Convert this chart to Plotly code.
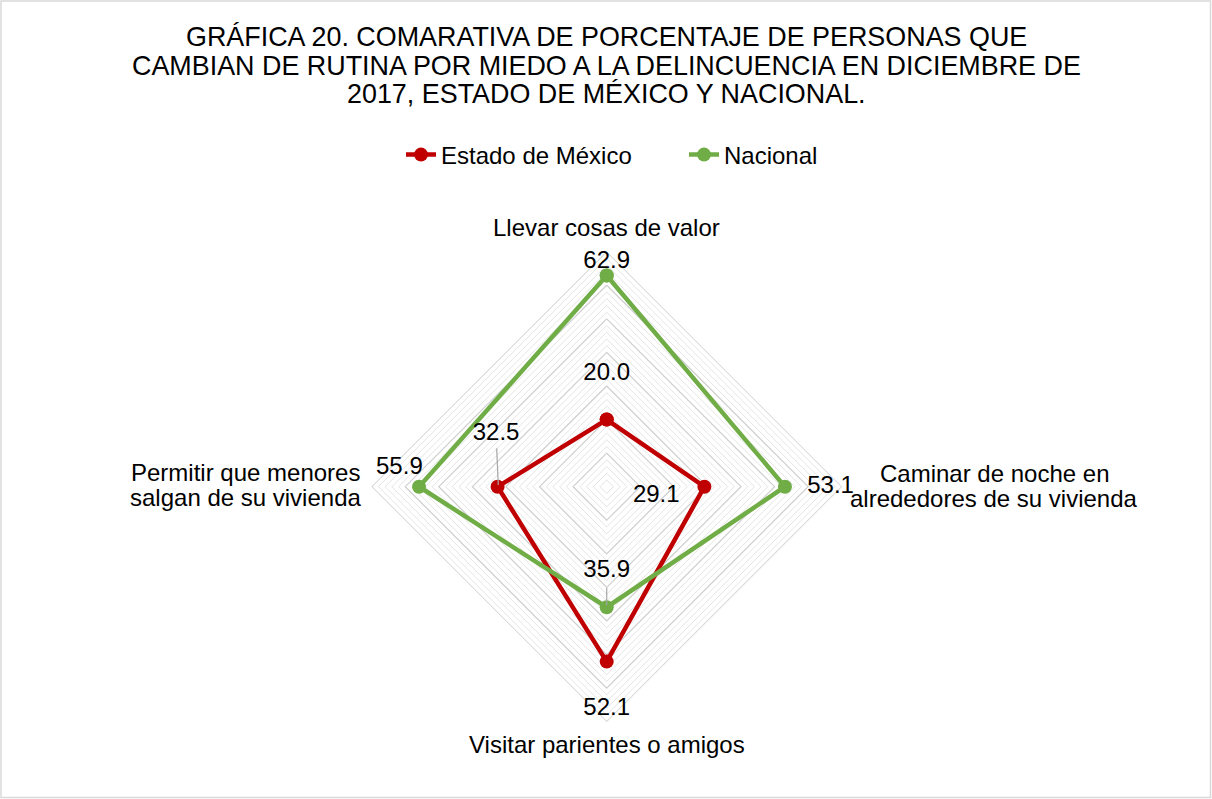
import plotly.graph_objects as go

# ---------------- data ----------------
categories = [
    "Llevar cosas de valor",
    "Caminar de noche en alrededores de su vivienda",
    "Visitar parientes o amigos",
    "Permitir que menores salgan de su vivienda",
]
estado_mexico = [20.0, 29.1, 52.1, 32.5]
nacional = [62.9, 53.1, 35.9, 55.9]

title_lines = [
    "GRÁFICA 20. COMARATIVA DE PORCENTAJE DE PERSONAS QUE",
    "CAMBIAN DE RUTINA POR MIEDO A LA DELINCUENCIA EN DICIEMBRE DE",
    "2017, ESTADO DE MÉXICO Y NACIONAL.",
]
series_names = ["Estado de México", "Nacional"]

# ---------------- styling ----------------
W, H = 1212, 799
FONT = "Liberation Sans, Arial, sans-serif"
RED = "#C00000"
GREEN = "#70AD47"
R_MAX = 70
CX, CY, RAD = 606.7, 486.7, 235.0          # polar centre / radius in px
cat_angles = [0, 90, 180, 270]               # clockwise from top

# label offsets (dr in data units, dtheta in degrees) relative to each point
est_lbl_off = [(13.6, 0), (-14.1, 10.3), (14.1, 0), (4.0, 25.5)]
nac_lbl_off = [(3.9, 0), (13.6, 0), (-10.9, 0), (6.1, 5.1)]
# leader lines: (index, (dr0, dth0), (dr1, dth1))
est_leaders = [(3, (2.2, 19.2), (-0.2, 0.9))]
nac_leaders = [(2, (-5.7, 0), (-0.6, 0))]

dom_x = [(CX - RAD) / W, (CX + RAD) / W]
dom_y = [(H - CY - RAD) / H, (H - CY + RAD) / H]

fig = go.Figure()

closed_theta = categories + [categories[0]]

# major rings (every 10) drawn darker over the light minor grid
for lvl in range(10, R_MAX + 1, 10):
    fig.add_trace(go.Scatterpolar(
        r=[lvl] * 5, theta=closed_theta, mode="lines",
        line=dict(color="#d0d0d0", width=1.2),
        hoverinfo="skip", showlegend=False, subplot="polar"))

for name, vals, col in [(series_names[0], estado_mexico, RED),
                        (series_names[1], nacional, GREEN)]:
    fig.add_trace(go.Scatterpolar(
        r=vals + [vals[0]], theta=closed_theta, mode="lines+markers",
        name=name, line=dict(color=col, width=4.5),
        marker=dict(color=col, size=14), subplot="polar"))

# data labels + leader lines on an overlaid linear polar subplot
for vals, offs, leaders in [(estado_mexico, est_lbl_off, est_leaders),
                            (nacional, nac_lbl_off, nac_leaders)]:
    for idx, a, b in leaders:
        fig.add_trace(go.Scatterpolar(
            r=[vals[idx] + a[0], vals[idx] + b[0]],
            theta=[cat_angles[idx] + a[1], cat_angles[idx] + b[1]],
            mode="lines", line=dict(color="#a6a6a6", width=1.2),
            hoverinfo="skip", showlegend=False, subplot="polar2"))
    fig.add_trace(go.Scatterpolar(
        r=[v + o[0] for v, o in zip(vals, offs)],
        theta=[a + o[1] for a, o in zip(cat_angles, offs)],
        mode="text", text=[f"{v:.1f}" for v in vals],
        textposition="middle center",
        textfont=dict(family=FONT, size=24, color="#000000"),
        hoverinfo="skip", showlegend=False, subplot="polar2", cliponaxis=False))

# ---------------- annotations (title + category labels) ----------------
annotations = []
title_centres = [37.4, 65.7, 94.0]
for txt, yc in zip(title_lines, title_centres):
    annotations.append(dict(text=txt, x=CX / W, y=(H - yc) / H, xref="paper", yref="paper",
                            xanchor="center", yanchor="middle", showarrow=False,
                            font=dict(family=FONT, size=26.9, color="#000000")))

cat_label_lines = [
    ([categories[0]], 606.7, [227.4]),
    (["Caminar de noche en", "alrededores de su vivienda"], 994.0, [473.1, 498.1]),
    (["Visitar parientes o amigos"], 606.7, [744.7]),
    (["Permitir que menores", "salgan de su vivienda"], 245.5, [472.1, 497.4]),
]
for lines, xc, ys in cat_label_lines:
    for ln, yc in zip(lines, ys):
        annotations.append(dict(text=ln, x=xc / W, y=(H - yc) / H, xref="paper", yref="paper",
                                xanchor="center", yanchor="middle", showarrow=False,
                                font=dict(family=FONT, size=24, color="#000000")))

fig.update_layout(
    width=W, height=H,
    margin=dict(l=0, r=0, t=0, b=0),
    paper_bgcolor="white",
    font=dict(family=FONT, size=24, color="#000000"),
    showlegend=True,
    legend=dict(orientation="h", x=401 / W, xanchor="left", y=(H - 155) / H, yanchor="middle",
                font=dict(family=FONT, size=24, color="#000000"),
                entrywidth=238, entrywidthmode="pixels",
                bgcolor="rgba(0,0,0,0)", itemclick=False),
    polar=dict(
        domain=dict(x=dom_x, y=dom_y),
        bgcolor="white",
        gridshape="linear",
        radialaxis=dict(range=[0, R_MAX], tick0=0, dtick=2, showticklabels=False, ticks="",
                        showline=False, gridcolor="#e4e4e4", gridwidth=1),
        angularaxis=dict(type="category", categoryarray=categories, rotation=90,
                         direction="clockwise", showticklabels=False, ticks="",
                         showgrid=False, showline=True, linecolor="#dcdcdc", linewidth=1),
    ),
    polar2=dict(
        domain=dict(x=dom_x, y=dom_y),
        bgcolor="rgba(0,0,0,0)",
        radialaxis=dict(range=[0, R_MAX], visible=False),
        angularaxis=dict(type="linear", rotation=90, direction="clockwise", visible=False),
    ),
    annotations=annotations,
    shapes=[dict(type="rect", xref="paper", yref="paper",
                 x0=1 / W, x1=(W - 1.5) / W, y0=1.5 / H, y1=(H - 1) / H,
                 line=dict(color="#d9d9d9", width=1.5), fillcolor="rgba(0,0,0,0)")],
)

fig.write_html("out.html", config={"displayModeBar": False},
               post_script="document.body.style.margin='0';document.body.style.overflow='hidden';")
